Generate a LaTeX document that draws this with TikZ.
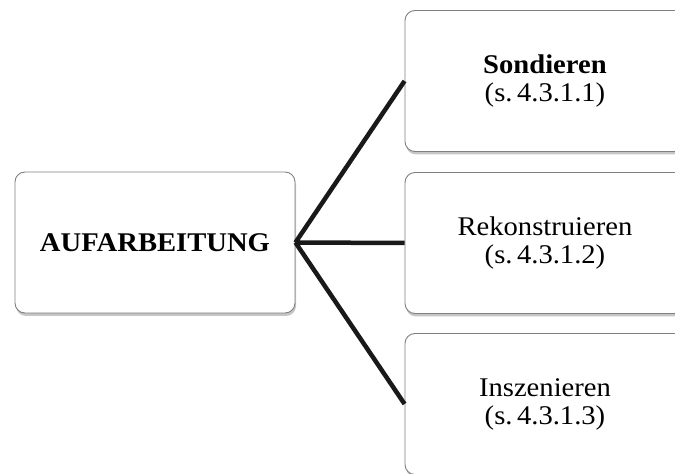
\documentclass[tikz,border=0pt]{standalone}
\usepackage{fontspec}
\setmainfont[FakeStretch=1.06]{Liberation Serif}
\usetikzlibrary{shadows}
\tikzset{
  stepbox/.style={draw=gray, line width=.9pt, fill=white, rounded corners=10pt,
    minimum width=280pt, minimum height=141pt, align=center,
    font=\fontsize{27}{28}\selectfont,
    drop shadow={shadow xshift=1pt, shadow yshift=-3pt, opacity=.45, fill=gray}},
  branch/.style={line width=4.5pt, black!90}
}
\begin{document}
\begin{tikzpicture}[x=1pt,y=1pt]
    \useasboundingbox (0,0) rectangle (675,474);

    \node (auf) at (155,231.5) [stepbox] {\textbf{AUFARBEITUNG}};
    \node (son) at (545,393) [stepbox] {\textbf{Sondieren}\\(s.\,4.3.1.1)};
    \node (rek) at (545,231) [stepbox] {Rekonstruieren\\(s.\,4.3.1.2)};
    \node (ins) at (545,70) [stepbox] {Inszenieren\\(s.\,4.3.1.3)};

    \draw[branch]
    (auf.east) to (son.west)
    (auf.east) to (rek.west)
    (auf.east) to (ins.west);
  \end{tikzpicture}
\end{document}
